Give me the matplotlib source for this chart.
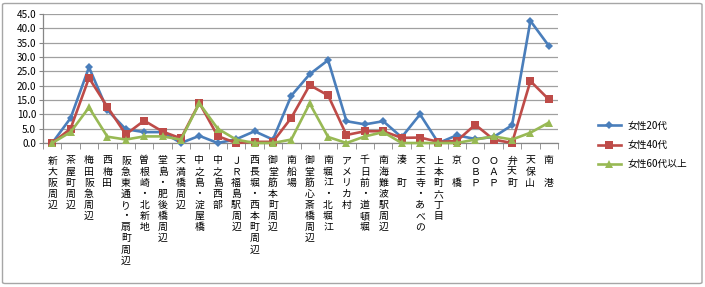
#!/usr/bin/env python3
"""
Line chart: share by area for three female age groups (Osaka areas).
"""

import numpy as np
import matplotlib
matplotlib.use('Agg')
import matplotlib.pyplot as plt
from matplotlib.patches import FancyBboxPatch

plt.rcParams['font.family'] = ['Noto Sans CJK JP', 'DejaVu Sans']

# --- data -------------------------------------------------------------
areas = [
    '新大阪周辺', '茶屋町周辺', '梅田阪急周辺', '西梅田', '阪急東通り・扇町周辺',
    '曽根崎・北新地', '堂島・肥後橋周辺', '天満橋周辺', '中之島・淀屋橋', '中之島西部',
    'ＪＲ福島駅周辺', '西長堀・西本町周辺', '御堂筋本町周辺', '南船場', '御堂筋心斎橋周辺',
    '南堀江・北堀江', 'アメリカ村', '千日前・道頓堀', '南海難波駅周辺', '湊　町',
    '天王寺・あべの', '上本町六丁目', '京　橋', 'ＯＢＰ', 'ＯＡＰ',
    '弁天町', '天保山', '南　港',
]

female_20s = [0.0, 8.7, 26.4, 11.5, 4.8, 3.8, 3.8, 0.0, 2.5, 0.0,
              1.3, 4.1, 1.2, 16.5, 24.0, 28.9, 7.6, 6.5, 7.6, 2.0,
              10.0, 0.0, 2.7, 1.4, 2.1, 6.2, 42.6, 33.9]
female_40s = [0.0, 5.0, 22.7, 12.6, 3.0, 7.8, 4.0, 1.6, 14.0, 2.4,
              0.0, 0.4, 0.4, 8.8, 20.2, 16.6, 2.8, 4.1, 4.1, 1.8,
              1.9, 0.4, 0.7, 6.4, 1.2, 0.0, 21.6, 15.2]
female_60s = [0.0, 3.8, 12.4, 2.2, 1.2, 2.3, 2.3, 1.2, 13.8, 5.0,
              1.2, 0.0, 0.0, 1.2, 13.8, 2.1, 0.0, 2.3, 3.8, 0.0,
              0.0, 0.0, 0.0, 1.2, 2.3, 1.2, 3.6, 7.1]

series_names = ['女性20代', '女性40代', '女性60代以上']
y_ticks = np.arange(0, 46, 5)

# --- figure -----------------------------------------------------------
W, H = 705, 287
fig = plt.figure(figsize=(W / 100, H / 100), dpi=100)

# outer chart border
fig.patches.append(FancyBboxPatch((2.5 / W, 3.5 / H), 699.5 / W, 280 / H,
                                  boxstyle='round,pad=0,rounding_size=0.004',
                                  transform=fig.transFigure, fill=False,
                                  edgecolor='#A6A6A6', linewidth=1.0))

ax = fig.add_axes([43 / W, 1 - 143 / H, (558 - 43) / W, (143 - 14) / H])

x = np.arange(len(areas))
styles = [
    dict(color='#4A7EBB', marker='D', markersize=4.5),
    dict(color='#BE4B48', marker='s', markersize=6),
    dict(color='#98B954', marker='^', markersize=6),
]
for vals, name, st in zip([female_20s, female_40s, female_60s], series_names, styles):
    ax.plot(x, vals, label=name, linewidth=1.9, clip_on=False,
            markeredgewidth=0, zorder=3, **st)

ax.set_xlim(-0.5, len(areas) - 0.5)
ax.set_ylim(0, 45)
ax.set_yticks(y_ticks)
ax.set_yticklabels([f'{v:.1f}' for v in y_ticks], fontsize=7.2, color='#000000')
ax.yaxis.grid(True, color='#A0A0A0', linewidth=0.9)
ax.set_axisbelow(True)

for side in ['top', 'right']:
    ax.spines[side].set_visible(False)
for side in ['left', 'bottom']:
    ax.spines[side].set_color('#868686')
    ax.spines[side].set_linewidth(0.9)

ax.tick_params(axis='y', length=3, color='#868686', pad=2)

# category labels stacked vertically, one character per line
ax.set_xticks(x)
ax.set_xticklabels(['\n'.join(a) for a in areas], fontsize=7.1,
                   linespacing=1.14, va='top')
ax.tick_params(axis='x', which='major', length=0, pad=9)
ax.set_xticks(np.arange(-0.5, len(areas), 1), minor=True)
ax.tick_params(axis='x', which='minor', length=4, color='#868686')

fig.legend(loc='upper left', bbox_to_anchor=(589 / W, 1 - 112 / H),
           frameon=False, fontsize=7.0, handlelength=2.4,
           labelspacing=0.95, handletextpad=0.7)

fig.savefig('out.png', dpi=100)
